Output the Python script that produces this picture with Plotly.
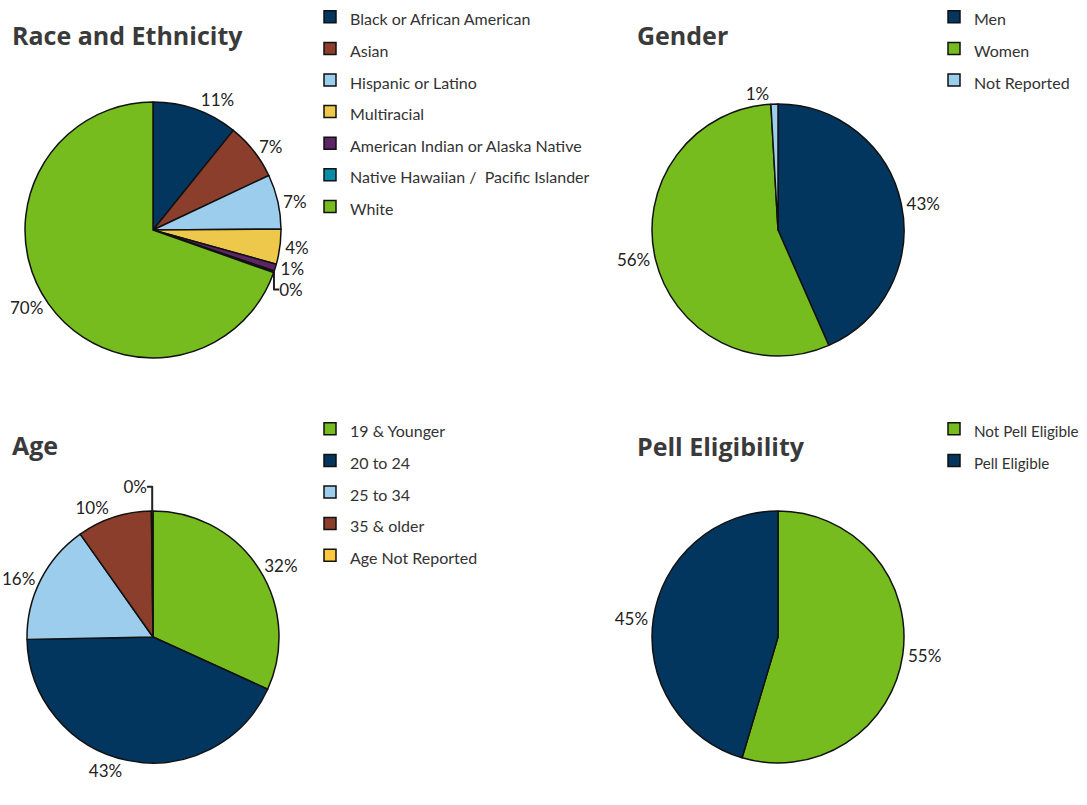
import plotly.graph_objects as go

W, H = 1087, 805

race_labels = ["Black or African American", "Asian", "Hispanic or Latino", "Multiracial",
               "American Indian or Alaska Native", "Native Hawaiian /  Pacific Islander", "White"]
race_values = [10.8, 7.2, 6.9, 4.4, 0.9, 0.2, 69.6]
race_colors = ["#02365F", "#8B3E2C", "#9DCDEC", "#EDC84A", "#5B2566", "#0A8CA8", "#77BC1F"]

gender_labels = ["Men", "Women", "Not Reported"]
gender_values = [43.4, 55.7, 0.9]
gender_colors = ["#02365F", "#77BC1F", "#9DCDEC"]

age_labels = ["19 & Younger", "20 to 24", "25 to 34", "35 & older", "Age Not Reported"]
age_values = [31.8, 42.9, 15.5, 9.6, 0.2]
age_colors = ["#77BC1F", "#02365F", "#9DCDEC", "#8B3E2C", "#FFC83D"]

pell_labels = ["Not Pell Eligible", "Pell Eligible"]
pell_values = [54.6, 45.4]
pell_colors = ["#77BC1F", "#02365F"]

titles = ["Race and Ethnicity", "Gender", "Age", "Pell Eligibility"]


def fx(px):
    return px / W


def fy(py):
    return 1 - py / H


def px_dom(cx, cy, r):
    return dict(x=[fx(cx - r), fx(cx + r)], y=[fy(cy + r), fy(cy - r)])


def wrap(lbls, size):
    return ['<span style="font-size:%gpx">%s</span>' % (size, l) for l in lbls]


fig = go.Figure()
specs = [
    (race_labels, race_values, race_colors, (153, 230, 128), "legend", 16),
    (gender_labels, gender_values, gender_colors, (778, 230, 126), "legend2", 16),
    (age_labels, age_values, age_colors, (153, 637, 126), "legend3", 16),
    (pell_labels, pell_values, pell_colors, (778, 637, 126), "legend4", 15.2),
]
for lbls, vals, cols, (cx, cy, r), lg, fs in specs:
    fig.add_trace(go.Pie(
        labels=wrap(lbls, fs), values=vals, sort=False, direction="clockwise", rotation=0,
        marker=dict(colors=cols, line=dict(color="#111111", width=1.5)),
        texttemplate="%{percent:.0%}", textposition="outside",
        outsidetextfont=dict(family="Lato", size=17, color="#222222"),
        domain=px_dom(cx, cy, r), legend=lg, hoverinfo="label+percent",
    ))

leg_common = dict(font=dict(family="Lato", size=22, color="#333333"), bgcolor="rgba(0,0,0,0)",
                  xanchor="left", yanchor="top", traceorder="normal")
fig.update_layout(
    width=W, height=H, margin=dict(l=0, r=0, t=0, b=0, autoexpand=False),
    paper_bgcolor="white", plot_bgcolor="white", showlegend=True,
    legend=dict(x=fx(310), y=fy(-4), **leg_common),
    legend2=dict(x=fx(934), y=fy(-4), **leg_common),
    legend3=dict(x=fx(310), y=fy(408), **leg_common),
    legend4=dict(x=fx(934), y=fy(408), **leg_common),
)

title_pos = [(10, 35), (635, 35), (10, 445), (635, 446)]
for t, (x, y) in zip(titles, title_pos):
    fig.add_annotation(text="<b>%s</b>" % t, x=fx(x), y=fy(y), xref="paper", yref="paper",
                       xanchor="left", yanchor="middle", showarrow=False,
                       font=dict(family="Open Sans", size=25, color="#3A3A3A"))

fig.write_html("out.html", config={"displayModeBar": False},
               post_script="document.body.style.margin='0';")
